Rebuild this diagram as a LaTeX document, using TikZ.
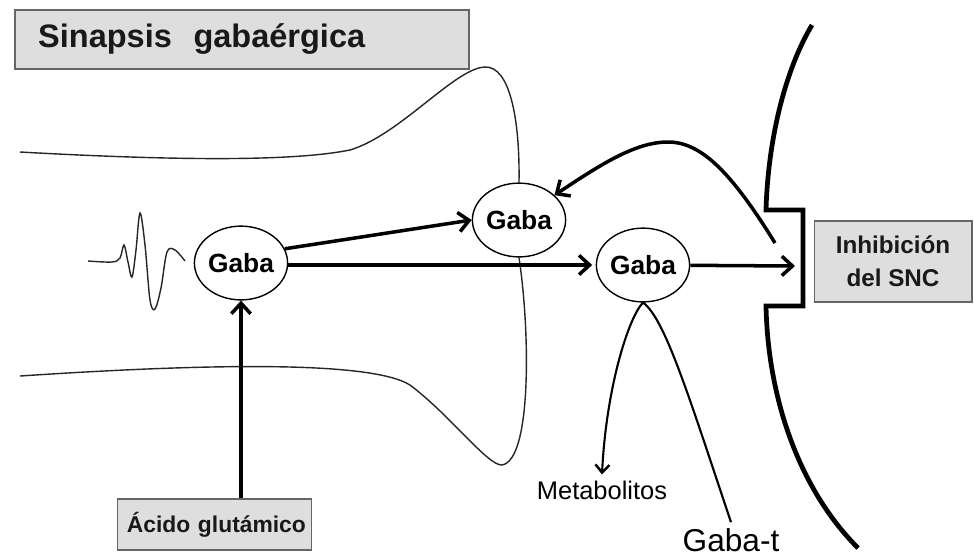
\documentclass[tikz,border=0pt]{standalone}
\usepackage{fontspec}
\setmainfont{Liberation Sans}
\usetikzlibrary{shapes.geometric, arrows.meta, positioning}

\begin{document}
\begin{tikzpicture}[x=0.02cm, y=-0.02cm]
\tikzstyle{label} = [rectangle, draw=black!60, line width=0.9pt, fill=black!13, text=black!90]
\tikzstyle{gaba} = [ellipse, draw, line width=0.8pt, minimum width=52.5pt, minimum height=42pt, inner sep=0pt, font=\fontsize{15}{17}\selectfont\bfseries]
\tikzstyle{flow} = [line width=2pt, -{Straight Barb[length=6pt,width=11pt,line width=2pt]}]
\tikzstyle{route} = [line width=1.2pt]
\tikzstyle{axon} = [line width=0.8pt, black!85]
\tikzstyle{membrane} = [line width=2.7pt, line join=miter]

\useasboundingbox (0,0) rectangle (974,556);

% labels
\node (title) [label, minimum width=258.5pt, minimum height=33.4pt, text width=232pt, align=left, font=\fontsize{18.5}{21}\selectfont\bfseries] at (242,39.5) {Sinapsis\ \ gabaérgica};
\node (inhib) [label, minimum width=89.6pt, minimum height=45.9pt, align=center, font=\fontsize{13.8}{18.7}\selectfont\bfseries] at (893,261.5) {Inhibición\\del SNC};
\node (acido) [label, minimum width=110.5pt, minimum height=28.9pt, inner xsep=3pt, text width=104pt, align=right, font=\fontsize{13}{15}\selectfont\bfseries] at (214.5,524.5) {Ácido glutámico};
\node (metab) [font=\fontsize{14.5}{17}\selectfont] at (602,490) {Metabolitos};
\node (gabat) [font=\fontsize{18}{21}\selectfont] at (731,540) {Gaba-t};

% gaba pools
\node (gaba1) [gaba] at (241,263) {Gaba};
\node (gaba2) [gaba] at (519,220) {Gaba};
\node (gaba3) [gaba] at (643,265) {Gaba};

\coordinate (cleft) at (795,266);
\coordinate (back) at (775,243);

% presynaptic terminal
\draw[axon] (20,152) .. controls (200,162) and (300,160) .. (350,150)
  .. controls (400,135) and (455,68) .. (485,67)
  .. controls (510,66) and (520,120) .. (gaba2.north);
\draw[axon] (gaba2.south) .. controls (530,330) and (532,460) .. (502,465)
  .. controls (488,466) and (450,415) .. (410,385)
  .. controls (370,360) and (200,364) .. (20,376);

% action potential
\draw[axon] plot[smooth, tension=0.55] coordinates {(88,261) (112,262) (120,258) (124,245) (128,262) (132,277) (136,250) (140,213) (145,245) (150,300) (155,309) (161,288) (167,252) (175,250) (185,261)};

% postsynaptic membrane
\draw[membrane] (812,25) .. controls (785,70) and (768,140) .. (766,210) -- (803,210) -- (803,306) -- (766,306) .. controls (768,400) and (800,490) .. (858,548);

% connectors
\draw[flow] (gaba1.18) -- (gaba2.west);
\draw[flow, shorten >=2pt] (gaba1.east |- gaba3) -- (gaba3);
\draw[flow] (gaba3) -- (cleft);
\draw[flow] (back) .. controls (730,170) and (700,142) .. (668,142) .. controls (635,142) and (600,165) .. (gaba2.35);
\draw[flow] (acido.north -| gaba1) -- (gaba1);
\draw[route, -{Straight Barb[length=4.5pt,width=8pt,line width=1.4pt]}] (gaba3.south) .. controls (628,318) and (606,390) .. (metab.north);
\draw[route] (gaba3.south) .. controls (665,318) and (690,400) .. (gabat.north);

\end{tikzpicture}
\end{document}
